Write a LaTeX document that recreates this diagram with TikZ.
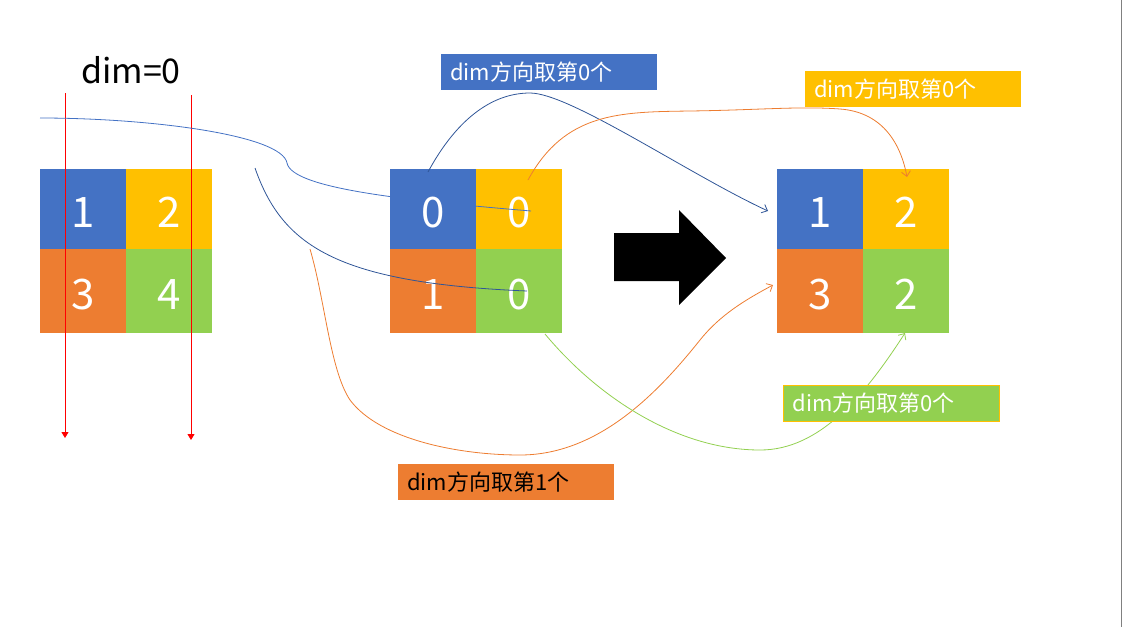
\documentclass[tikz,border=0pt]{standalone}
\usepackage{fontspec}
\newfontfamily\cjk{Noto Sans CJK SC}
\usetikzlibrary{arrows.meta}
\definecolor{cblue}{HTML}{4472C4}
\definecolor{cdark}{HTML}{2F5597}
\definecolor{cyel}{HTML}{FFC000}
\definecolor{corg}{HTML}{ED7D31}
\definecolor{cgrn}{HTML}{92D050}
\tikzset{
	every picture/.style={font=\cjk},
	cell/.style={rectangle, minimum width=86pt, inner sep=0pt, text=white, text height=37pt, text depth=0pt, font=\cjk\fontsize{42}{42}\selectfont},
	toprow/.style={cell, minimum height=80pt},
	botrow/.style={cell, minimum height=84pt},
	lbl/.style={rectangle, anchor=west, inner xsep=9pt, inner ysep=0pt, text width=198pt, minimum height=36pt, align=left, font=\cjk\fontsize{22}{22}\selectfont},
	%%%
	lw/.style={line width=0.8pt},
	link/.style={lw, -{Straight Barb[length=5pt,width=9pt]}},
	down/.style={red, line width=0.9pt, -{Triangle[length=6pt,width=7pt]}},
}
\gdef\cA{83}
\gdef\cB{169}
\gdef\rA{209}
\gdef\rB{291}

\begin{document}
\begin{tikzpicture}[x=1pt, y=-1pt]

	\useasboundingbox (0,0) rectangle (1123,627);
	\draw[black!50, line width=1pt] (1121.5,0) -- (1121.5,627);

	%%% Input grid

	\node[toprow, fill=cblue] (L11) at (\cA,\rA) {1};
	\node[toprow, fill=cyel]  (L12) at (\cB,\rA) {2};
	\node[botrow, fill=corg]  (L21) at (\cA,\rB) {3};
	\node[botrow, fill=cgrn]  (L22) at (\cB,\rB) {4};
	\node[font=\cjk\fontsize{34}{34}\selectfont] (dim) at (131,70) {dim=0};

	\coordinate (d1a) at (65,93);
	\coordinate (d1b) at (65,438);
	\coordinate (d2a) at (191,95);
	\coordinate (d2b) at (191,440);
	\draw[down] (d1a) -- (d1b);
	\draw[down] (d2a) -- (d2b);

	%%% Index grid

	\node[toprow, fill=cyel] (M12) at (\cA+436,\rA) {0};

	\coordinate (a0) at (40,118);
	\coordinate (a1) at (287,163);
	\coordinate (a2) at (531,211);
	\draw[lw, cblue] (a0) .. controls (150,118) and (282,135) .. (a1) .. controls (292,188) and (400,200) .. (a2);

	\node[toprow, fill=cblue] (M11) at (\cA+350,\rA) {0};
	\node[botrow, fill=corg]  (M21) at (\cA+350,\rB) {1};
	\node[botrow, fill=cgrn]  (M22) at (\cA+436,\rB) {0};

	%%% Output grid

	\node[toprow, fill=cblue] (R11) at (\cA+737,\rA) {1};
	\node[toprow, fill=cyel]  (R12) at (\cA+823,\rA) {2};
	\node[botrow, fill=corg]  (R21) at (\cA+737,\rB) {3};
	\node[botrow, fill=cgrn]  (R22) at (\cA+823,\rB) {2};

	\fill[black] (614,233) -- (679,233) -- (679,210) -- (726,258) -- (679,305) -- (679,281) -- (614,281) -- cycle;

	%%% Curves

	\coordinate (b0) at (255,168);
	\coordinate (b1) at (527,291);
	\draw[lw, cdark] (b0) .. controls (282,245) and (335,283) .. (b1);

	\coordinate (c0) at (428,172);
	\coordinate (c1) at (530,93);
	\coordinate (c2) at (768,211);
	\draw[link, cdark] (c0) .. controls (455,122) and (490,93) .. (c1) .. controls (570,93) and (690,175) .. (c2);

	\coordinate (e0) at (528,180);
	\coordinate (e1) at (690,111);
	\coordinate (e2) at (840,109);
	\coordinate (e3) at (907,177);
	\draw[link, corg] (e0) .. controls (565,112) and (620,112) .. (e1) .. controls (760,110) and (800,106) .. (e2) .. controls (880,112) and (900,140) .. (e3);

	\coordinate (f0) at (310,249);
	\coordinate (f1) at (350,400);
	\coordinate (f2) at (520,455);
	\coordinate (f3) at (700,340);
	\coordinate (f4) at (773,285);
	\draw[link, corg] (f0) .. controls (325,300) and (330,370) .. (f1) .. controls (380,440) and (460,455) .. (f2) .. controls (600,455) and (660,390) .. (f3) .. controls (720,315) and (745,300) .. (f4);

	\coordinate (g0) at (545,334);
	\coordinate (g1) at (760,450);
	\coordinate (g2) at (905,333);
	\draw[link, cgrn] (g0) .. controls (600,400) and (680,450) .. (g1) .. controls (820,450) and (865,395) .. (g2);

	%%% Labels

	\node[lbl, fill=cblue, text=white] (lab1) at (441,72) {dim方向取第0个};
	\node[lbl, fill=cyel, text=white] (lab2) at (805,89) {dim方向取第0个};
	\node[lbl, fill=cgrn, text=white, draw=cyel, line width=0.8pt] (lab3) at (783,403) {dim方向取第0个};
	\node[lbl, fill=corg, text=black] (lab4) at (398,482) {dim方向取第1个};

\end{tikzpicture}
\end{document}
